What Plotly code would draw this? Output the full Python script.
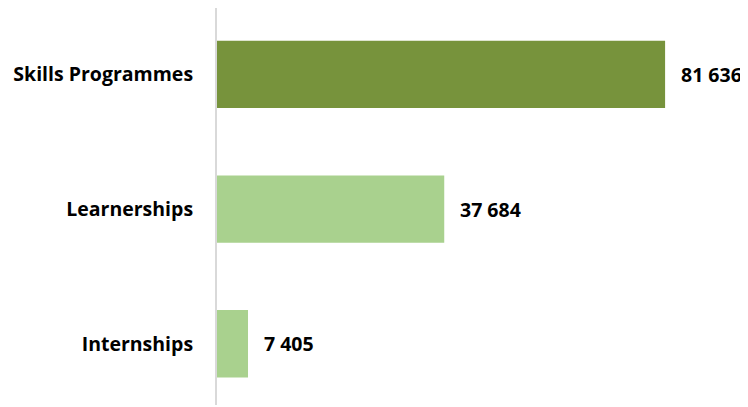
import plotly.graph_objects as go

categories = ["Internships", "Learnerships", "Skills Programmes"]
# bar lengths as drawn in the picture (in the same units as the top bar)
bar_values = [5650, 41400, 81636]
value_labels = ["7 405", "37 684", "81 636"]
colors = ["#A9D18E", "#A9D18E", "#77933C"]

FONT = "Open Sans"
FSIZE = 19.5

fig = go.Figure(
    go.Bar(
        y=categories,
        x=bar_values,
        orientation="h",
        marker=dict(color=colors, line=dict(width=0)),
        width=0.5,
        hoverinfo="skip",
    )
)

for c, v, t in zip(categories, bar_values, value_labels):
    fig.add_annotation(
        x=v, y=c, text=t, showarrow=False, xanchor="left", yanchor="middle",
        xshift=14, font=dict(family=FONT, size=FSIZE, color="#000000", weight="bold"),
    )

# page body has an 8px default margin, so the figure is offset by (8, 8)
fig.update_layout(
    width=748, height=407,
    margin=dict(l=209, r=45, t=0, b=10, autoexpand=False),
    paper_bgcolor="white", plot_bgcolor="white",
    showlegend=False,
    xaxis=dict(range=[0, 90000], showgrid=False, zeroline=False, showticklabels=False,
               showline=False, ticks="", automargin=False),
    yaxis=dict(type="category", categoryorder="array", categoryarray=categories,
               range=[-0.455, 2.493], showgrid=False, zeroline=False,
               showline=True, linecolor="#D9D9D9", linewidth=2, ticks="",
               ticklabelstandoff=18, automargin=False,
               tickfont=dict(family=FONT, size=FSIZE, color="#000000", weight="bold")),
)

fig.write_html("out.html")
